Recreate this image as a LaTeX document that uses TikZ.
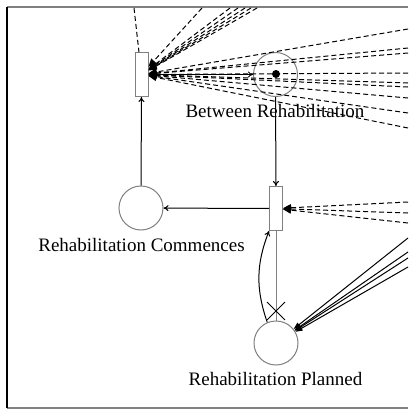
\documentclass[tikz,border=0pt]{standalone}
\usepackage{fontspec}
\setmainfont{Liberation Serif}
\usetikzlibrary{arrows.meta,shapes.misc}
\begin{document}
\begin{tikzpicture}[x=1pt,y=-1pt,
 place/.style={circle,draw=gray,line width=1pt,minimum size=44pt,inner sep=0pt},
 trans/.style={rectangle,draw=gray,line width=1pt,minimum width=13pt,minimum height=44pt,inner sep=0pt},
 arc/.style={line width=1pt,-{To[length=5pt,width=6pt]}},
 darc/.style={line width=1pt,dash pattern=on 5pt off 3pt,-{Triangle[length=8pt,width=7pt]}},
 dline/.style={line width=1pt,dash pattern=on 5pt off 3pt},
 sarc/.style={line width=1pt,-{Triangle[length=7pt,width=5pt]}},
 lbl/.style={font=\fontsize{19}{22}\selectfont,anchor=base,inner sep=0pt},
 frameline/.style={line width=1.5pt}]
\useasboundingbox (0,0) rectangle (408,410);
% frame
\coordinate (ftl) at (7,7);
\coordinate (fbl) at (7,408);
\coordinate (ftr) at (408,7);
\coordinate (fbr) at (408,408);
\draw[frameline,gray] (ftl) -- (ftr);
\draw[frameline,gray] (fbl) -- (fbr);
\draw[frameline,black] (ftl) -- (fbl);
% nodes
\node[trans] (t1) at (141.5,74.5) {};
\node[trans] (t2) at (276,208.5) {};
\node[place] (br) at (275.5,74.5) {};
\node[circle,fill=black,inner sep=0pt,minimum size=8pt] (tok) at (276,74) {};
\node[place] (rc) at (141,208) {};
\node[place] (pl) at (276,343) {};
\node[lbl] (brl) at (275,117) {Between Rehabilitation};
\node[lbl] (rcl) at (141.5,251.5) {Rehabilitation Commences};
\node[lbl] (pll) at (275.5,385) {Rehabilitation Planned};
% arcs
\draw[arc] (t1) -- (br);
\draw[arc] (br) -- (t2);
\draw[arc] (t2) -- (rc);
\draw[arc] (rc) -- (t1);
\draw[arc] (pl.113) to[bend left=20] (t2.south west);
\draw[gray,line width=1pt] (t2) -- (pl);
\node[cross out,draw=black,line width=0.9pt,minimum size=17pt,inner sep=0pt] (x) at (276,311) {};
% dashed arcs into t1 from the top
\coordinate (tv) at (134,8);
\draw[dline] (tv) -- (t1);
\foreach \xx [count=\i] in {202,230,238,245,251,257}{
  \coordinate (top\i) at (\xx,8);
  \draw[darc] (top\i) -- (t1);
}
% dashed arcs into t1 from the right
\foreach \yy [count=\i] in {29,48,53,73,83,87,98,113,128}{
  \coordinate (r\i) at (408,\yy);
  \draw[darc] (r\i) -- (t1);
}
% dashed arcs into t2
\foreach \yy [count=\i] in {202,213,223}{
  \coordinate (s\i) at (408,\yy);
  \draw[darc] (s\i) -- (t2);
}
% solid arcs into pl
\foreach \yy [count=\i] in {238,252,258,267}{
  \coordinate (p\i) at (408,\yy);
  \draw[sarc] (p\i) -- (pl);
}
\end{tikzpicture}
\end{document}
